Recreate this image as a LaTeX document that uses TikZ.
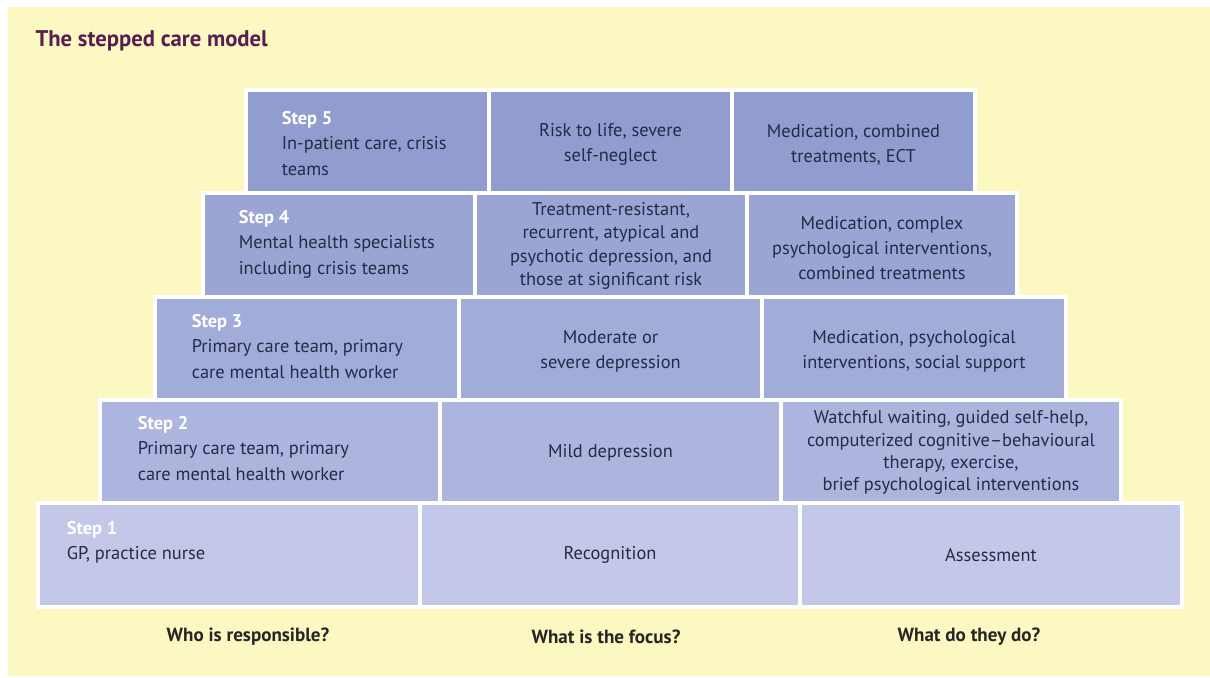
\documentclass[tikz,border=0pt]{standalone}
\usepackage{fontspec}
\setmainfont{PT Sans}
\usetikzlibrary{fit,calc}

\definecolor{bgyellow}{RGB}{252,248,194}
\definecolor{titlepurple}{RGB}{88,30,82}
\definecolor{inktext}{RGB}{38,42,72}
\definecolor{rowfive}{RGB}{145,157,207}
\definecolor{rowfour}{RGB}{154,165,212}
\definecolor{rowthree}{RGB}{162,172,217}
\definecolor{rowtwo}{RGB}{173,181,222}
\definecolor{rowone}{RGB}{195,200,232}

\tikzset{every picture/.style={line width=0.75pt}}
\tikzset{
	cell/.style={draw=white, line width=2.6pt, inner sep=0pt},
	celltext/.style={inner sep=0pt, align=center, text=inktext, font=\fontsize{13.8}{18.8}\selectfont},
	whotext/.style={anchor=north west, inner sep=0pt, align=left, text=inktext, font=\fontsize{13.8}{18.8}\selectfont},
	question/.style={inner sep=0pt, text=black!85, font=\bfseries\fontsize{14.3}{17}\selectfont}
}
\newcommand{\steplabel}[1]{{\bfseries\color{white}Step #1}}

\begin{document}
\begin{tikzpicture}[x=0.75pt,y=0.75pt,yscale=-1,xscale=1]
		\useasboundingbox (0,0) rectangle (1210,678);
		
		%Shape: Rectangle [background]
		\fill [white] (0,0) rectangle (1210,678);
		\fill [bgyellow] (8,7) rectangle (1210,676);
		
		% Title
		\node [anchor=west, inner sep=0pt, text=titlepurple, font=\bfseries\fontsize{17}{20}\selectfont] (title) at (35,41) {The stepped care model};
		
		%Step 5
		\node [cell, fill=rowfive, fit={(246,90) (489,193)}] (s5who) {};
		\node [cell, fill=rowfive, fit={(489,90) (732,193)}] (s5focus) {};
		\node [cell, fill=rowfive, fit={(732,90) (975,193)}] (s5do) {};
		\node [whotext] (s5text) at ($(s5who.north west)+(37,23)$) {\steplabel{5}\\In-patient care, crisis\\teams};
		\node [celltext] (s5focustext) at ($(s5focus.center)+(0,3)$) {Risk to life, severe\\self-neglect};
		\node [celltext] (s5dotext) at ($(s5do.center)+(0,3)$) {Medication, combined\\treatments, ECT};
		
		%Step 4
		\node [cell, fill=rowfour, fit={(203,193) (475,297)}] (s4who) {};
		\node [cell, fill=rowfour, fit={(475,193) (747,297)}] (s4focus) {};
		\node [cell, fill=rowfour, fit={(747,193) (1017,297)}] (s4do) {};
		\node [whotext] (s4text) at ($(s4who.north west)+(37,19)$) {\steplabel{4}\\Mental health specialists\\including crisis teams};
		\node [celltext, font=\fontsize{13.8}{17.4}\selectfont] (s4focustext) at ($(s4focus.center)+(0,1)$) {Treatment-resistant,\\recurrent, atypical and\\psychotic depression, and\\those at significant risk};
		\node [celltext] (s4dotext) at ($(s4do.center)+(0,3)$) {Medication, complex\\psychological interventions,\\combined treatments};
		
		%Step 3
		\node [cell, fill=rowthree, fit={(155,297) (459,400)}] (s3who) {};
		\node [cell, fill=rowthree, fit={(459,297) (762,400)}] (s3focus) {};
		\node [cell, fill=rowthree, fit={(762,297) (1066,400)}] (s3do) {};
		\node [whotext] (s3text) at ($(s3who.north west)+(38,19)$) {\steplabel{3}\\Primary care team, primary\\care mental health worker};
		\node [celltext] (s3focustext) at ($(s3focus.center)+(0,3)$) {Moderate or\\severe depression};
		\node [celltext] (s3dotext) at ($(s3do.center)+(0,3)$) {Medication, psychological\\interventions, social support};
		
		%Step 2
		\node [cell, fill=rowtwo, fit={(100,400) (440,503)}] (s2who) {};
		\node [cell, fill=rowtwo, fit={(440,400) (781,503)}] (s2focus) {};
		\node [cell, fill=rowtwo, fit={(781,400) (1121,503)}] (s2do) {};
		\node [whotext] (s2text) at ($(s2who.north west)+(39,18)$) {\steplabel{2}\\Primary care team, primary\\care mental health worker};
		\node [celltext] (s2focustext) at ($(s2focus.center)+(0,1)$) {Mild depression};
		\node [celltext, font=\fontsize{13.8}{16.6}\selectfont] (s2dotext) at ($(s2do.center)+(0,1)$) {Watchful waiting, guided self-help,\\computerized cognitive--behavioural\\therapy, exercise,\\brief psychological interventions};
		
		%Step 1
		\node [cell, fill=rowone, fit={(38,503) (420,607)}] (s1who) {};
		\node [cell, fill=rowone, fit={(420,503) (800,607)}] (s1focus) {};
		\node [cell, fill=rowone, fit={(800,503) (1182,607)}] (s1do) {};
		\node [whotext] (s1text) at ($(s1who.north west)+(30,20)$) {\steplabel{1}\\GP, practice nurse};
		\node [celltext] (s1focustext) at ($(s1focus.center)+(0,0)$) {Recognition};
		\node [celltext] (s1dotext) at ($(s1do.center)+(0,0)$) {Assessment};
		
		% Column questions
		\node [question] (qwho) at (248,637) {Who is responsible?};
		\node [question] (qfocus) at (606,637) {What is the focus?};
		\node [question] (qdo) at (969,637) {What do they do?};
		
	\end{tikzpicture}
\end{document}
